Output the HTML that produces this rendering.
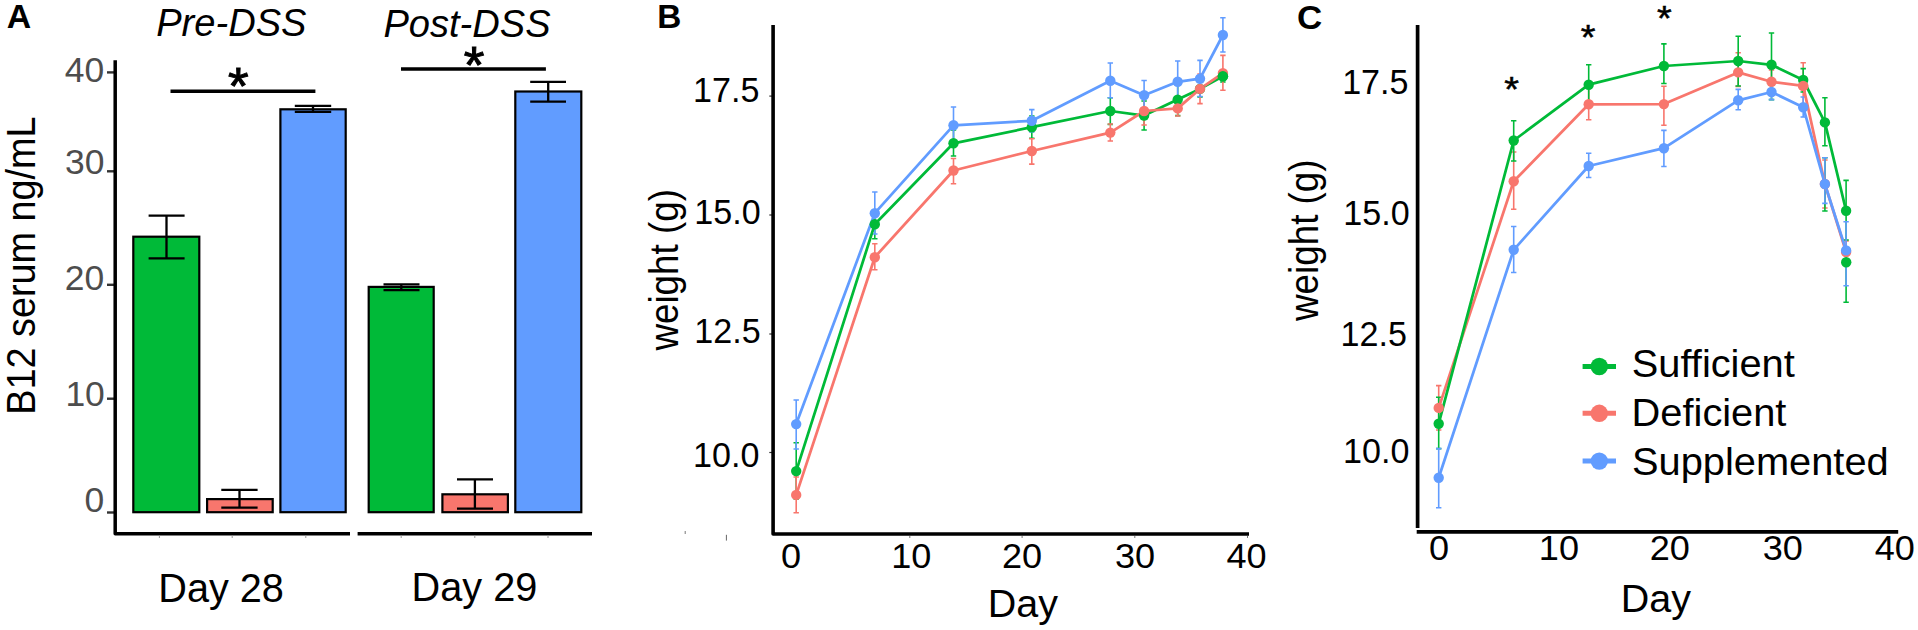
<!DOCTYPE html>
<html><head><meta charset="utf-8"><title>Figure</title>
<style>
html,body{margin:0;padding:0;background:#fff;}
body{width:1918px;height:630px;overflow:hidden;}
svg{display:block;}
text{font-family:"Liberation Sans",Arial,Helvetica,sans-serif;fill:#000;}
.b{font-weight:bold;}
.i{font-style:italic;}
.g{fill:#4d4d4d;}
</style></head><body>
<svg width="1918" height="630" viewBox="0 0 1918 630">
<rect width="1918" height="630" fill="#fff"/>

<g id="panelA">
<text transform="translate(6.65,28.48) scale(1.0199,1)" font-size="33.17" class="b">A</text>
<text transform="translate(156.20,35.75) scale(0.9787,1)" font-size="38.92" class="i">Pre-DSS</text>
<text transform="translate(383.40,36.85) scale(0.9787,1)" font-size="38.92" class="i">Post-DSS</text>
<text transform="translate(34.53,414.75) rotate(-90) scale(0.9319,1)" font-size="40.57">B12 serum ng/mL</text>
<text transform="translate(64.78,82.35) scale(1.0371,1)" font-size="34.22" class="g">40</text>
<text transform="translate(65.00,174.45) scale(1.0371,1)" font-size="34.22" class="g">30</text>
<text transform="translate(64.68,290.35) scale(1.0371,1)" font-size="34.22" class="g">20</text>
<text transform="translate(65.38,405.55) scale(1.0371,1)" font-size="34.22" class="g">10</text>
<text transform="translate(84.48,511.60) scale(1.0371,1)" font-size="34.22" class="g">0</text>
<line x1="107" x2="114" y1="72.4" y2="72.4" stroke="#333" stroke-width="2.4"/>
<line x1="107" x2="114" y1="171.3" y2="171.3" stroke="#333" stroke-width="2.4"/>
<line x1="107" x2="114" y1="284.8" y2="284.8" stroke="#333" stroke-width="2.4"/>
<line x1="107" x2="114" y1="398.7" y2="398.7" stroke="#333" stroke-width="2.4"/>
<line x1="107" x2="114" y1="512.5" y2="512.5" stroke="#333" stroke-width="2.4"/>
<rect x="133.3" y="236.7" width="66.0" height="275.5" fill="#00ba38" stroke="#000" stroke-width="2.2"/>
<path d="M148.6 215.7H184.6M148.6 258.4H184.6M166.5 215.7V258.4" stroke="#000" stroke-width="2.3" fill="none"/>
<rect x="207.1" y="499.1" width="65.6" height="13.1" fill="#f8766d" stroke="#000" stroke-width="2.2"/>
<path d="M221.3 489.8H257.6M221.3 507.7H257.6M239.5 489.8V507.7" stroke="#000" stroke-width="2.3" fill="none"/>
<rect x="280.4" y="109.3" width="65.3" height="402.9" fill="#619cff" stroke="#000" stroke-width="2.2"/>
<path d="M294.8 105.8H331.2M294.8 111.9H331.2M313 105.8V111.9" stroke="#000" stroke-width="2.3" fill="none"/>
<rect x="368.7" y="286.9" width="65.0" height="225.3" fill="#00ba38" stroke="#000" stroke-width="2.2"/>
<path d="M383.5 284.3H419.5M383.5 290.1H419.5M401.3 284.3V290.1" stroke="#000" stroke-width="2.3" fill="none"/>
<rect x="442.4" y="494.3" width="65.5" height="17.9" fill="#f8766d" stroke="#000" stroke-width="2.2"/>
<path d="M457 479.3H493M457 508.7H493M474.9 479.3V508.7" stroke="#000" stroke-width="2.3" fill="none"/>
<rect x="515.3" y="91.5" width="66.0" height="420.7" fill="#619cff" stroke="#000" stroke-width="2.2"/>
<path d="M530.2 81.9H566M530.2 101.7H566M548.2 81.9V101.7" stroke="#000" stroke-width="2.3" fill="none"/>
<path d="M115.2 60.3V533.8H350" stroke="#000" stroke-width="3.5" fill="none" stroke-linejoin="round"/>
<path d="M357.6 533.8H592" stroke="#000" stroke-width="3.5" fill="none"/>
<line x1="159.4" x2="159.4" y1="535.5" y2="538" stroke="#999" stroke-width="1"/>
<line x1="232.2" x2="232.2" y1="535.5" y2="538" stroke="#999" stroke-width="1"/>
<line x1="305.8" x2="305.8" y1="535.5" y2="538" stroke="#999" stroke-width="1"/>
<line x1="401.2" x2="401.2" y1="535.5" y2="538" stroke="#999" stroke-width="1"/>
<line x1="474.8" x2="474.8" y1="535.5" y2="538" stroke="#999" stroke-width="1"/>
<line x1="548" x2="548" y1="535.5" y2="538" stroke="#999" stroke-width="1"/>
<line x1="170.5" x2="315.4" y1="91.2" y2="91.2" stroke="#000" stroke-width="3.5"/>
<line x1="401" x2="545.9" y1="68.9" y2="68.9" stroke="#000" stroke-width="3.5"/>
<text transform="translate(228.02,104.38) scale(1.0326,1)" font-size="51.34" stroke="#000" stroke-width="1.0">*</text>
<text transform="translate(463.82,82.72) scale(1.0326,1)" font-size="51.34" stroke="#000" stroke-width="1.0">*</text>
<text transform="translate(158.27,601.58) scale(0.9875,1)" font-size="40.17">Day 28</text>
<text transform="translate(411.60,601.02) scale(0.9875,1)" font-size="40.17">Day 29</text>
</g>
<g id="panelB">
<text transform="translate(657.18,28.48) scale(1.0057,1)" font-size="33.17" class="b">B</text>
<text transform="translate(677.95,350.62) rotate(-90) scale(0.9039,1)" font-size="40.73">weight (g)</text>
<text transform="translate(693.10,101.85) scale(0.9695,1)" font-size="35.20">17.5</text>
<text transform="translate(694.25,224.42) scale(0.9695,1)" font-size="35.20">15.0</text>
<text transform="translate(694.25,343.38) scale(0.9695,1)" font-size="35.20">12.5</text>
<text transform="translate(693.10,466.92) scale(0.9695,1)" font-size="35.20">10.0</text>
<line x1="769.3" x2="772" y1="96.1" y2="96.1" stroke="#333" stroke-width="1.2"/>
<line x1="769.3" x2="772" y1="215" y2="215" stroke="#333" stroke-width="1.2"/>
<line x1="769.3" x2="772" y1="334" y2="334" stroke="#333" stroke-width="1.2"/>
<line x1="769.3" x2="772" y1="452.5" y2="452.5" stroke="#333" stroke-width="1.2"/>
<path d="M796.2 442.7V499M793.5 442.7H798.9M793.5 499H798.9M874.8 210V238.7M872.1 210H877.5M872.1 238.7H877.5M953.5 130V156M950.8 130H956.2M950.8 156H956.2M1031.8 116V138.2M1029.1 116H1034.5M1029.1 138.2H1034.5M1110.3 97.8V124.4M1107.6 97.8H1113.0M1107.6 124.4H1113.0M1144.1 101V130M1141.4 101H1146.8M1141.4 130H1146.8M1177.7 84V115.6M1175.0 84H1180.4M1175.0 115.6H1180.4M1200 80V97M1197.3 80H1202.7M1197.3 97H1202.7M1222.9 70V82M1220.2 70H1225.6M1220.2 82H1225.6" stroke="#00ba38" stroke-width="1.6" fill="none"/>
<path d="M796.2 477V512.7M793.5 477H798.9M793.5 512.7H798.9M874.8 243.8V269.7M872.1 243.8H877.5M872.1 269.7H877.5M953.5 158.5V183.7M950.8 158.5H956.2M950.8 183.7H956.2M1031.8 138.7V164.1M1029.1 138.7H1034.5M1029.1 164.1H1034.5M1110.3 124V141M1107.6 124H1113.0M1107.6 141H1113.0M1144.1 97V125M1141.4 97H1146.8M1141.4 125H1146.8M1177.7 99V116M1175.0 99H1180.4M1175.0 116H1180.4M1200 74V103.6M1197.3 74H1202.7M1197.3 103.6H1202.7M1222.9 55.4V90.2M1220.2 55.4H1225.6M1220.2 90.2H1225.6" stroke="#f8766d" stroke-width="1.6" fill="none"/>
<path d="M796.2 400V449M793.5 400H798.9M793.5 449H798.9M874.8 192V234M872.1 192H877.5M872.1 234H877.5M953.5 107V143.5M950.8 107H956.2M950.8 143.5H956.2M1031.8 109.6V132M1029.1 109.6H1034.5M1029.1 132H1034.5M1110.3 63V97.8M1107.6 63H1113.0M1107.6 97.8H1113.0M1144.1 80.5V110M1141.4 80.5H1146.8M1141.4 110H1146.8M1177.7 61V102M1175.0 61H1180.4M1175.0 102H1180.4M1200 60.4V96.5M1197.3 60.4H1202.7M1197.3 96.5H1202.7M1222.9 17.8V52M1220.2 17.8H1225.6M1220.2 52H1225.6" stroke="#619cff" stroke-width="1.6" fill="none"/>
<polyline points="796.2,471.1 874.8,224.2 953.5,143.3 1031.8,127.2 1110.3,111 1144.1,115.6 1177.7,99.6 1200,88.9 1222.9,76.2" fill="none" stroke="#00ba38" stroke-width="2.75" stroke-linejoin="round" stroke-linecap="round"/>
<polyline points="796.2,494.9 874.8,257.2 953.5,170.5 1031.8,151 1110.3,132.6 1144.1,111 1177.7,108.4 1200,88.9 1222.9,73.1" fill="none" stroke="#f8766d" stroke-width="2.75" stroke-linejoin="round" stroke-linecap="round"/>
<polyline points="796.2,424.1 874.8,213.2 953.5,125.3 1031.8,120.8 1110.3,80.8 1144.1,95.2 1177.7,81.8 1200,78.7 1222.9,35" fill="none" stroke="#619cff" stroke-width="2.75" stroke-linejoin="round" stroke-linecap="round"/>
<ellipse cx="796.2" cy="471.1" rx="5.2" ry="5.2" fill="#00ba38"/>
<ellipse cx="874.8" cy="224.2" rx="5.2" ry="5.2" fill="#00ba38"/>
<ellipse cx="953.5" cy="143.3" rx="5.2" ry="5.2" fill="#00ba38"/>
<ellipse cx="1031.8" cy="127.2" rx="5.2" ry="5.2" fill="#00ba38"/>
<ellipse cx="1110.3" cy="111" rx="5.2" ry="5.2" fill="#00ba38"/>
<ellipse cx="1144.1" cy="115.6" rx="5.2" ry="5.2" fill="#00ba38"/>
<ellipse cx="1177.7" cy="99.6" rx="5.2" ry="5.2" fill="#00ba38"/>
<ellipse cx="1200" cy="88.9" rx="5.2" ry="5.2" fill="#00ba38"/>
<ellipse cx="1222.9" cy="76.2" rx="5.2" ry="5.2" fill="#00ba38"/>
<ellipse cx="796.2" cy="494.9" rx="5.2" ry="5.2" fill="#f8766d"/>
<ellipse cx="874.8" cy="257.2" rx="5.2" ry="5.2" fill="#f8766d"/>
<ellipse cx="953.5" cy="170.5" rx="5.2" ry="5.2" fill="#f8766d"/>
<ellipse cx="1031.8" cy="151" rx="5.2" ry="5.2" fill="#f8766d"/>
<ellipse cx="1110.3" cy="132.6" rx="5.2" ry="5.2" fill="#f8766d"/>
<ellipse cx="1144.1" cy="111" rx="5.2" ry="5.2" fill="#f8766d"/>
<ellipse cx="1177.7" cy="108.4" rx="5.2" ry="5.2" fill="#f8766d"/>
<ellipse cx="1200" cy="88.9" rx="5.2" ry="5.2" fill="#f8766d"/>
<ellipse cx="1222.9" cy="73.1" rx="5.2" ry="5.2" fill="#f8766d"/>
<ellipse cx="796.2" cy="424.1" rx="5.2" ry="5.2" fill="#619cff"/>
<ellipse cx="874.8" cy="213.2" rx="5.2" ry="5.2" fill="#619cff"/>
<ellipse cx="953.5" cy="125.3" rx="5.2" ry="5.2" fill="#619cff"/>
<ellipse cx="1031.8" cy="120.8" rx="5.2" ry="5.2" fill="#619cff"/>
<ellipse cx="1110.3" cy="80.8" rx="5.2" ry="5.2" fill="#619cff"/>
<ellipse cx="1144.1" cy="95.2" rx="5.2" ry="5.2" fill="#619cff"/>
<ellipse cx="1177.7" cy="81.8" rx="5.2" ry="5.2" fill="#619cff"/>
<ellipse cx="1200" cy="78.7" rx="5.2" ry="5.2" fill="#619cff"/>
<ellipse cx="1222.9" cy="35" rx="5.2" ry="5.2" fill="#619cff"/>
<ellipse cx="1222.9" cy="76.2" rx="5.2" ry="5.2" fill="#00ba38"/>
<path d="M773.1 25V534H1249" stroke="#000" stroke-width="3.6" fill="none" stroke-linejoin="round"/>
<text transform="translate(780.97,568.28) scale(1.0457,1)" font-size="34.51">0</text>
<text transform="translate(891.30,568.28) scale(1.0457,1)" font-size="34.51">10</text>
<text transform="translate(1002.05,568.28) scale(1.0457,1)" font-size="34.51">20</text>
<text transform="translate(1114.88,568.28) scale(1.0457,1)" font-size="34.51">30</text>
<text transform="translate(1226.50,568.28) scale(1.0457,1)" font-size="34.51">40</text>
<text transform="translate(987.68,617.10) scale(1.0073,1)" font-size="39.21">Day</text>
<line x1="909.8" x2="909.8" y1="536" y2="538" stroke="#777" stroke-width="1"/>
<line x1="1022.1" x2="1022.1" y1="536" y2="538" stroke="#777" stroke-width="1"/>
<line x1="1134.8" x2="1134.8" y1="536" y2="538" stroke="#777" stroke-width="1"/>
<line x1="1247.5" x2="1247.5" y1="536" y2="538" stroke="#777" stroke-width="1"/>
<line x1="685.2" x2="685.2" y1="531" y2="534" stroke="#777" stroke-width="1"/>
<line x1="726.4" x2="726.4" y1="534.8" y2="540.6" stroke="#666" stroke-width="1"/>
</g>
<g id="panelC">
<text transform="translate(1297.12,28.60) scale(1.0272,1)" font-size="34.01" class="b">C</text>
<text transform="translate(1318.35,321.02) rotate(-90) scale(0.9039,1)" font-size="40.73">weight (g)</text>
<text transform="translate(1342.15,94.10) scale(0.9695,1)" font-size="35.20">17.5</text>
<text transform="translate(1343.30,224.88) scale(0.9695,1)" font-size="35.20">15.0</text>
<text transform="translate(1340.50,346.12) scale(0.9695,1)" font-size="35.20">12.5</text>
<text transform="translate(1342.95,463.32) scale(0.9695,1)" font-size="35.20">10.0</text>
<path d="M1438.7 385.6V430M1436.0 385.6H1441.4M1436.0 430H1441.4M1513.7 152V209.2M1511.0 152H1516.4M1511.0 209.2H1516.4M1588.7 88V119.8M1586.0 88H1591.4M1586.0 119.8H1591.4M1663.9 86.3V125.3M1661.2 86.3H1666.6M1661.2 125.3H1666.6M1738.2 52.8V86.4M1735.5 52.8H1740.9M1735.5 86.4H1740.9M1771.5 70V93M1768.8 70H1774.2M1768.8 93H1774.2M1803.2 62.7V109M1800.5 62.7H1805.9M1800.5 109H1805.9M1824.9 160V208M1822.2 160H1827.6M1822.2 208H1827.6M1846.1 241V252M1843.4 241H1848.8M1843.4 252H1848.8" stroke="#f8766d" stroke-width="1.6" fill="none"/>
<path d="M1438.7 397.3V448.6M1436.0 397.3H1441.4M1436.0 448.6H1441.4M1513.7 120.7V161M1511.0 120.7H1516.4M1511.0 161H1516.4M1588.7 64.8V104M1586.0 64.8H1591.4M1586.0 104H1591.4M1663.9 43.9V83.5M1661.2 43.9H1666.6M1661.2 83.5H1666.6M1738.2 36.3V86M1735.5 36.3H1740.9M1735.5 86H1740.9M1771.5 33V99.6M1768.8 33H1774.2M1768.8 99.6H1774.2M1803.2 68.6V92M1800.5 68.6H1805.9M1800.5 92H1805.9M1824.9 97.8V145.8M1822.2 97.8H1827.6M1822.2 145.8H1827.6M1846.1 180.4V240M1843.4 180.4H1848.8M1843.4 240H1848.8" stroke="#00ba38" stroke-width="1.6" fill="none"/>
<path d="M1824.9 157.7V211M1822.2 157.7H1827.6M1822.2 211H1827.6" stroke="#00ba38" stroke-width="1.6" fill="none"/>
<path d="M1846.1 262V302.2M1843.4 262H1848.8M1843.4 302.2H1848.8" stroke="#00ba38" stroke-width="1.6" fill="none"/>
<path d="M1438.7 448.6V507.7M1436.0 448.6H1441.4M1436.0 507.7H1441.4M1513.7 226.5V272.5M1511.0 226.5H1516.4M1511.0 272.5H1516.4M1588.7 153.3V177.5M1586.0 153.3H1591.4M1586.0 177.5H1591.4M1663.9 130.4V166.5M1661.2 130.4H1666.6M1661.2 166.5H1666.6M1738.2 89.4V109.7M1735.5 89.4H1740.9M1735.5 109.7H1740.9M1771.5 84V99.6M1768.8 84H1774.2M1768.8 99.6H1774.2M1803.2 97V117M1800.5 97H1805.9M1800.5 117H1805.9M1824.9 157.7V203.4M1822.2 157.7H1827.6M1822.2 203.4H1827.6M1846.1 221.7V285.7M1843.4 221.7H1848.8M1843.4 285.7H1848.8" stroke="#619cff" stroke-width="1.6" fill="none"/>
<polyline points="1438.7,407.9 1513.7,181.3 1588.7,104.3 1663.9,104.1 1738.2,72.4 1771.5,81.8 1803.2,85.9 1824.9,184 1846.1,252" fill="none" stroke="#f8766d" stroke-width="2.75" stroke-linejoin="round" stroke-linecap="round"/>
<polyline points="1438.7,423.7 1513.7,140.5 1588.7,84.7 1663.9,66 1738.2,61 1771.5,64.8 1803.2,80 1824.9,122.4 1846.1,210.7" fill="none" stroke="#00ba38" stroke-width="2.75" stroke-linejoin="round" stroke-linecap="round"/>
<polyline points="1438.7,477.8 1513.7,249.8 1588.7,166 1663.9,148.2 1738.2,100.3 1771.5,92 1803.2,107.2 1824.9,184 1846.1,250.4" fill="none" stroke="#619cff" stroke-width="2.75" stroke-linejoin="round" stroke-linecap="round"/>
<ellipse cx="1438.7" cy="407.9" rx="5.2" ry="5.2" fill="#f8766d"/>
<ellipse cx="1513.7" cy="181.3" rx="5.2" ry="5.2" fill="#f8766d"/>
<ellipse cx="1588.7" cy="104.3" rx="5.2" ry="5.2" fill="#f8766d"/>
<ellipse cx="1663.9" cy="104.1" rx="5.2" ry="5.2" fill="#f8766d"/>
<ellipse cx="1738.2" cy="72.4" rx="5.2" ry="5.2" fill="#f8766d"/>
<ellipse cx="1771.5" cy="81.8" rx="5.2" ry="5.2" fill="#f8766d"/>
<ellipse cx="1803.2" cy="85.9" rx="5.2" ry="5.2" fill="#f8766d"/>
<ellipse cx="1824.9" cy="184" rx="5.2" ry="5.2" fill="#f8766d"/>
<ellipse cx="1846.1" cy="252" rx="5.2" ry="5.2" fill="#f8766d"/>
<ellipse cx="1438.7" cy="423.7" rx="5.2" ry="5.2" fill="#00ba38"/>
<ellipse cx="1513.7" cy="140.5" rx="5.2" ry="5.2" fill="#00ba38"/>
<ellipse cx="1588.7" cy="84.7" rx="5.2" ry="5.2" fill="#00ba38"/>
<ellipse cx="1663.9" cy="66" rx="5.2" ry="5.2" fill="#00ba38"/>
<ellipse cx="1738.2" cy="61" rx="5.2" ry="5.2" fill="#00ba38"/>
<ellipse cx="1771.5" cy="64.8" rx="5.2" ry="5.2" fill="#00ba38"/>
<ellipse cx="1803.2" cy="80" rx="5.2" ry="5.2" fill="#00ba38"/>
<ellipse cx="1824.9" cy="122.4" rx="5.2" ry="5.2" fill="#00ba38"/>
<ellipse cx="1846.1" cy="210.7" rx="5.2" ry="5.2" fill="#00ba38"/>
<ellipse cx="1803.2" cy="85.9" rx="5.2" ry="5.2" fill="#f8766d"/>
<ellipse cx="1438.7" cy="477.8" rx="5.2" ry="5.2" fill="#619cff"/>
<ellipse cx="1513.7" cy="249.8" rx="5.2" ry="5.2" fill="#619cff"/>
<ellipse cx="1588.7" cy="166" rx="5.2" ry="5.2" fill="#619cff"/>
<ellipse cx="1663.9" cy="148.2" rx="5.2" ry="5.2" fill="#619cff"/>
<ellipse cx="1738.2" cy="100.3" rx="5.2" ry="5.2" fill="#619cff"/>
<ellipse cx="1771.5" cy="92" rx="5.2" ry="5.2" fill="#619cff"/>
<ellipse cx="1803.2" cy="107.2" rx="5.2" ry="5.2" fill="#619cff"/>
<ellipse cx="1824.9" cy="184" rx="5.2" ry="5.2" fill="#619cff"/>
<ellipse cx="1846.1" cy="250.4" rx="5.2" ry="5.2" fill="#619cff"/>
<ellipse cx="1846.2" cy="262.3" rx="5.2" ry="5.2" fill="#00ba38"/>
<path d="M1417.6 25V528" stroke="#000" stroke-width="3.7" fill="none"/>
<path d="M1416.7 531.9H1898.2" stroke="#000" stroke-width="3.7" fill="none"/>
<text transform="translate(1429.07,559.78) scale(1.0457,1)" font-size="34.51">0</text>
<text transform="translate(1538.85,559.78) scale(1.0457,1)" font-size="34.51">10</text>
<text transform="translate(1649.70,559.78) scale(1.0457,1)" font-size="34.51">20</text>
<text transform="translate(1762.78,559.78) scale(1.0457,1)" font-size="34.51">30</text>
<text transform="translate(1874.80,559.78) scale(1.0457,1)" font-size="34.51">40</text>
<text transform="translate(1620.72,612.45) scale(1.0073,1)" font-size="39.21">Day</text>
<text transform="translate(1504.32,101.48) scale(1.0730,1)" font-size="35.23" stroke="#000" stroke-width="0.55">*</text>
<text transform="translate(1580.68,48.82) scale(1.0730,1)" font-size="35.23" stroke="#000" stroke-width="0.55">*</text>
<text transform="translate(1657.08,30.08) scale(1.0730,1)" font-size="35.23" stroke="#000" stroke-width="0.55">*</text>
<line x1="1582.6" x2="1616" y1="366.5" y2="366.5" stroke="#00ba38" stroke-width="5"/>
<circle cx="1599.3" cy="366.5" r="8.7" fill="#00ba38"/>
<line x1="1582.6" x2="1616" y1="413.3" y2="413.3" stroke="#f8766d" stroke-width="5"/>
<circle cx="1599.3" cy="413.3" r="8.7" fill="#f8766d"/>
<line x1="1582.6" x2="1616" y1="461.1" y2="461.1" stroke="#619cff" stroke-width="5"/>
<circle cx="1599.3" cy="461.1" r="8.7" fill="#619cff"/>
<text transform="translate(1631.82,377.38) scale(1.0332,1)" font-size="38.53">Sufficient</text>
<text transform="translate(1631.62,426.12) scale(1.0332,1)" font-size="38.53">Deficient</text>
<text transform="translate(1632.05,474.50) scale(1.0332,1)" font-size="38.53">Supplemented</text>
</g>
</svg></body></html>
